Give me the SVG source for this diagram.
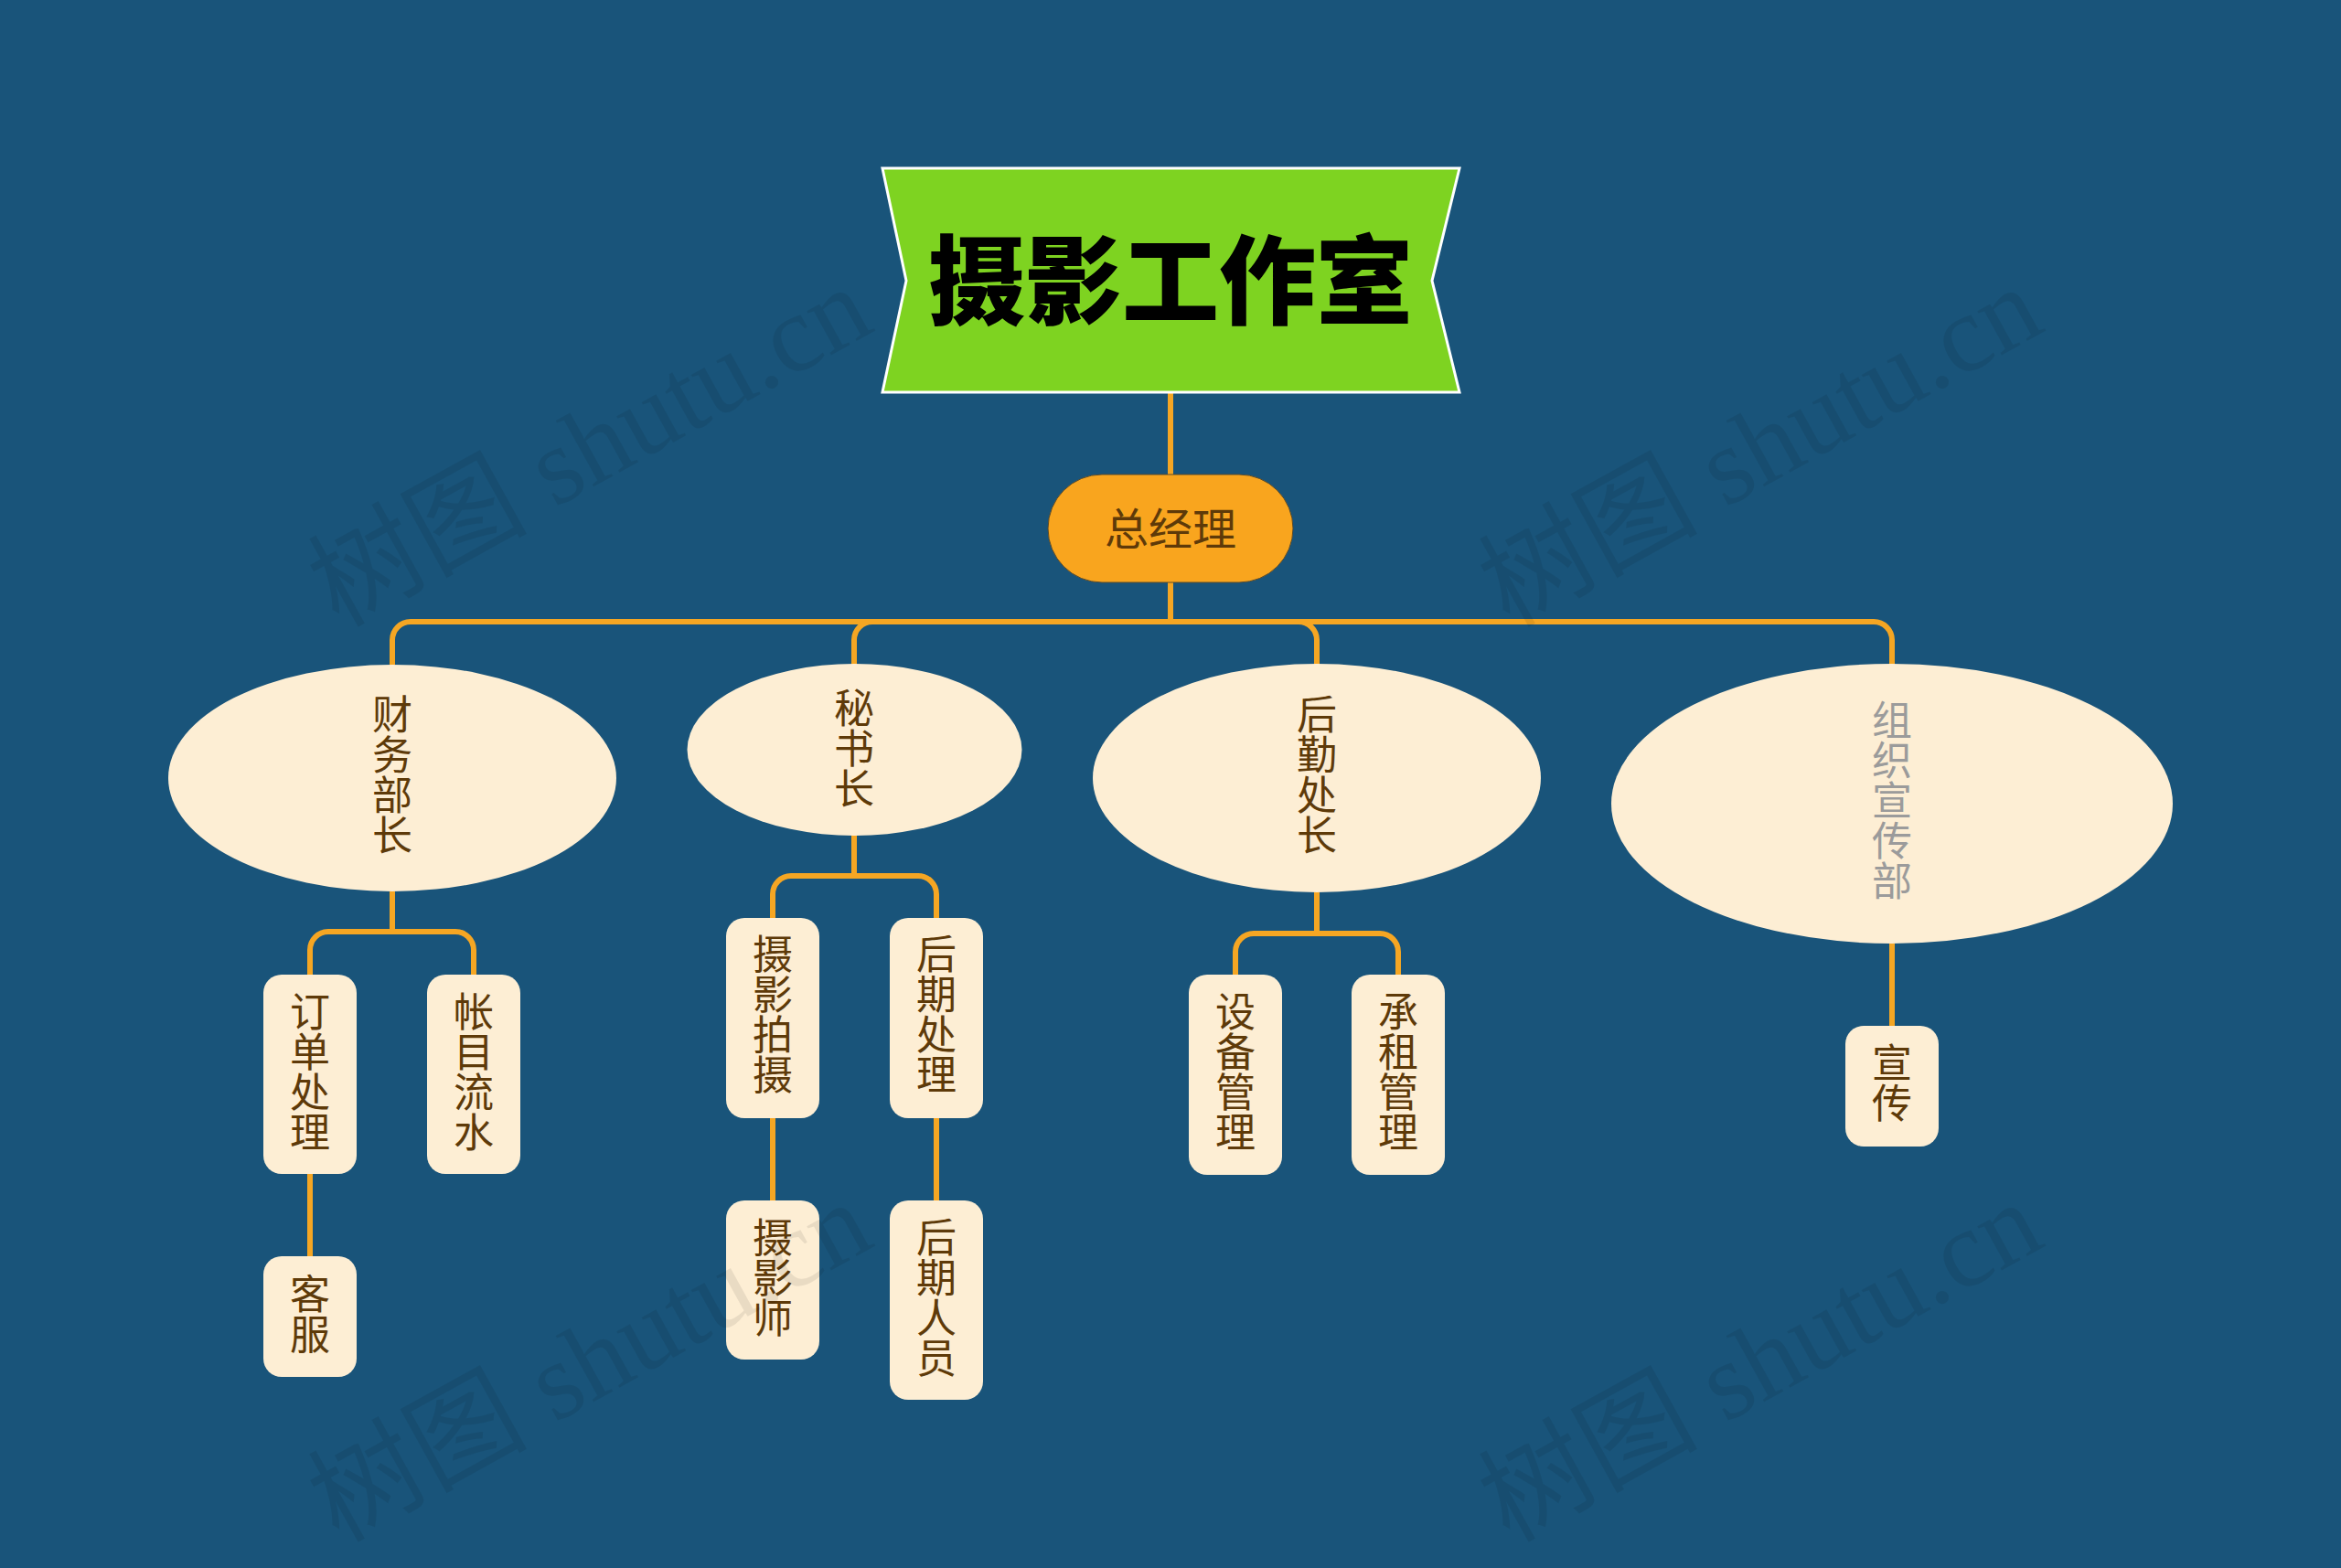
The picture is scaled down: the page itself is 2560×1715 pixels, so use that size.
<svg xmlns="http://www.w3.org/2000/svg" width="2560" height="1715" viewBox="0 0 2560 1715">
<defs>
<style>
.bg{fill:#19547a}
.conn{fill:none;stroke:#f5a623;stroke-width:6}
.box{fill:#fdeed4}
.t{font-family:"Noto Sans CJK SC","Noto Sans",sans-serif;font-size:44px;fill:#5e3a09;text-anchor:middle}
.gray{fill:#9b9b9b}
.wm{font-family:"Liberation Serif","Noto Sans CJK SC",serif;font-size:120px;fill:#000;fill-opacity:0.08}
</style>
</defs>
<rect class="bg" x="0" y="0" width="2560" height="1715"/>

<g id="connectors">
<path class="conn" d="M1280,429 V519"/>
<path class="conn" d="M1280,637 V680"/>
<path class="conn" d="M1280,680 H449 A20,20 0 0 0 429,700 V727"/>
<path class="conn" d="M1280,680 H954 A20,20 0 0 0 934,700 V727"/>
<path class="conn" d="M1280,680 H1420 A20,20 0 0 1 1440,700 V727"/>
<path class="conn" d="M1280,680 H2049 A20,20 0 0 1 2069,700 V727"/>
<path class="conn" d="M429,975 V1019"/>
<path class="conn" d="M429,1019 H359 A20,20 0 0 0 339,1039 V1066"/>
<path class="conn" d="M429,1019 H498 A20,20 0 0 1 518,1039 V1066"/>
<path class="conn" d="M339,1284 V1374"/>
<path class="conn" d="M934,913 V958"/>
<path class="conn" d="M934,958 H865 A20,20 0 0 0 845,978 V1004"/>
<path class="conn" d="M934,958 H1004 A20,20 0 0 1 1024,978 V1004"/>
<path class="conn" d="M845,1223 V1313"/>
<path class="conn" d="M1024,1223 V1313"/>
<path class="conn" d="M1440,976 V1021"/>
<path class="conn" d="M1440,1021 H1371 A20,20 0 0 0 1351,1041 V1066"/>
<path class="conn" d="M1440,1021 H1509 A20,20 0 0 1 1529,1041 V1066"/>
<path class="conn" d="M2069,1032 V1122"/>
</g>

<g id="root">
<polygon points="965,184 1596,184 1566,307 1596,429 965,429 991,307" fill="#7ed321" stroke="#ffffff" stroke-width="3"/>
<text x="1280" y="346" font-family="'Noto Sans CJK SC','Noto Sans',sans-serif" font-size="106" font-weight="900" fill="#000" text-anchor="middle">摄影工作室</text>
</g>

<g id="manager">
<rect x="1146" y="519" width="268" height="118" rx="59" fill="#f9a51e" stroke="#5a4a2a" stroke-width="1"/>
<text class="t" x="1280" y="596" style="font-size:48px">总经理</text>
</g>

<g id="finance">
<ellipse class="box" cx="429" cy="851" rx="245" ry="124"/>
<text class="t"><tspan x="429" y="798">财</tspan><tspan x="429" dy="44">务</tspan><tspan x="429" dy="44">部</tspan><tspan x="429" dy="44">长</tspan></text>
</g>
<g id="secretary">
<ellipse class="box" cx="934.5" cy="820" rx="183" ry="94"/>
<text class="t"><tspan x="934" y="791">秘</tspan><tspan x="934" dy="44">书</tspan><tspan x="934" dy="44">长</tspan></text>
</g>
<g id="logistics">
<ellipse class="box" cx="1440" cy="851" rx="245" ry="125"/>
<text class="t"><tspan x="1440" y="798">后</tspan><tspan x="1440" dy="44">勤</tspan><tspan x="1440" dy="44">处</tspan><tspan x="1440" dy="44">长</tspan></text>
</g>
<g id="publicity">
<ellipse class="box" cx="2069" cy="879" rx="307" ry="153"/>
<text class="t gray"><tspan x="2069" y="804">组</tspan><tspan x="2069" dy="44">织</tspan><tspan x="2069" dy="44">宣</tspan><tspan x="2069" dy="44">传</tspan><tspan x="2069" dy="44">部</tspan></text>
</g>

<g id="order">
<rect class="box" x="288" y="1066" width="102" height="218" rx="20"/>
<text class="t"><tspan x="339" y="1123">订</tspan><tspan x="339" dy="44">单</tspan><tspan x="339" dy="44">处</tspan><tspan x="339" dy="44">理</tspan></text>
</g>
<g id="accounts">
<rect class="box" x="467" y="1066" width="102" height="218" rx="20"/>
<text class="t"><tspan x="518" y="1123">帐</tspan><tspan x="518" dy="44">目</tspan><tspan x="518" dy="44">流</tspan><tspan x="518" dy="44">水</tspan></text>
</g>
<g id="service">
<rect class="box" x="288" y="1374" width="102" height="132" rx="20"/>
<text class="t"><tspan x="339" y="1432">客</tspan><tspan x="339" dy="44">服</tspan></text>
</g>
<g id="shooting">
<rect class="box" x="794" y="1004" width="102" height="219" rx="20"/>
<text class="t"><tspan x="845" y="1060">摄</tspan><tspan x="845" dy="44">影</tspan><tspan x="845" dy="44">拍</tspan><tspan x="845" dy="44">摄</tspan></text>
</g>
<g id="postprocess">
<rect class="box" x="973" y="1004" width="102" height="219" rx="20"/>
<text class="t"><tspan x="1024" y="1060">后</tspan><tspan x="1024" dy="44">期</tspan><tspan x="1024" dy="44">处</tspan><tspan x="1024" dy="44">理</tspan></text>
</g>
<g id="photographer">
<rect class="box" x="794" y="1313" width="102" height="174" rx="20"/>
<text class="t"><tspan x="845" y="1370">摄</tspan><tspan x="845" dy="44">影</tspan><tspan x="845" dy="44">师</tspan></text>
</g>
<g id="poststaff">
<rect class="box" x="973" y="1313" width="102" height="218" rx="20"/>
<text class="t"><tspan x="1024" y="1370">后</tspan><tspan x="1024" dy="44">期</tspan><tspan x="1024" dy="44">人</tspan><tspan x="1024" dy="44">员</tspan></text>
</g>
<g id="equipment">
<rect class="box" x="1300" y="1066" width="102" height="219" rx="20"/>
<text class="t"><tspan x="1351" y="1123">设</tspan><tspan x="1351" dy="44">备</tspan><tspan x="1351" dy="44">管</tspan><tspan x="1351" dy="44">理</tspan></text>
</g>
<g id="rental">
<rect class="box" x="1478" y="1066" width="102" height="219" rx="20"/>
<text class="t"><tspan x="1529" y="1123">承</tspan><tspan x="1529" dy="44">租</tspan><tspan x="1529" dy="44">管</tspan><tspan x="1529" dy="44">理</tspan></text>
</g>
<g id="promo">
<rect class="box" x="2018" y="1122" width="102" height="132" rx="20"/>
<text class="t"><tspan x="2069" y="1179">宣</tspan><tspan x="2069" dy="44">传</tspan></text>
</g>

<g id="watermarks">
<text class="wm" transform="translate(370,687) rotate(-29)">树图 shutu.cn</text>
<text class="wm" transform="translate(1650,687) rotate(-29)">树图 shutu.cn</text>
<text class="wm" transform="translate(370,1688) rotate(-29)">树图 shutu.cn</text>
<text class="wm" transform="translate(1650,1688) rotate(-29)">树图 shutu.cn</text>
</g>
</svg>
